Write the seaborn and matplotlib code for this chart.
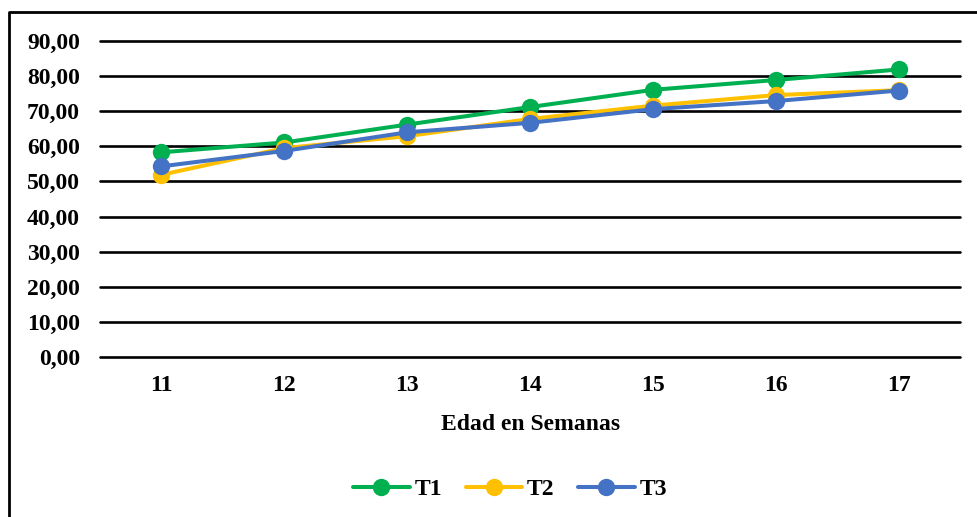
import pandas as pd
import matplotlib as mpl
import matplotlib.pyplot as plt
import seaborn as sns
from matplotlib.ticker import FuncFormatter

mpl.use("Agg")

# values
weeks = [11, 12, 13, 14, 15, 16, 17]
t1 = [58.3, 61.1, 66.2, 71.2, 76.1, 78.9, 81.9]
t2 = [51.9, 59.5, 62.9, 67.8, 71.6, 74.6, 76.0]
t3 = [54.3, 58.7, 64.0, 66.7, 70.6, 72.9, 75.9]
y_ticks = [0, 10, 20, 30, 40, 50, 60, 70, 80, 90]

df = pd.concat([
    pd.DataFrame({'Semana': weeks, 'Valor': t1, 'Tratamiento': 'T1'}),
    pd.DataFrame({'Semana': weeks, 'Valor': t2, 'Tratamiento': 'T2'}),
    pd.DataFrame({'Semana': weeks, 'Valor': t3, 'Tratamiento': 'T3'}),
])

sns.set_style("white")
plt.rcParams['font.family'] = ['Liberation Serif', 'DejaVu Serif']
plt.rcParams['font.weight'] = 'bold'
plt.rcParams['text.color'] = 'black'
plt.rcParams['xtick.color'] = 'black'
plt.rcParams['ytick.color'] = 'black'
plt.rcParams['axes.labelcolor'] = 'black'

fig = plt.figure(figsize=(9.78, 5.17), dpi=100)
ax = fig.add_axes([100 / 978, 1 - 357 / 517, 860.5 / 978, 316 / 517])

palette = {'T1': '#00B050', 'T2': '#FFC000', 'T3': '#4472C4'}
sns.lineplot(data=df, x='Semana', y='Valor', hue='Tratamiento', palette=palette,
             marker='o', markersize=12.5, markeredgewidth=0, linewidth=2.9,
             ax=ax, legend=False, zorder=3)

ax.set_xlim(10.5, 17.5)
ax.set_ylim(0, 90)
ax.set_xticks(weeks)
ax.set_yticks(y_ticks)
ax.yaxis.set_major_formatter(FuncFormatter(lambda v, p: f"{v:.2f}".replace('.', ',')))
ax.tick_params(length=0, labelsize=17)
ax.tick_params(axis='x', pad=13)
ax.tick_params(axis='y', pad=14.5)
for lab in ax.get_xticklabels() + ax.get_yticklabels():
    lab.set_fontweight('bold')
ax.grid(axis='y', color='black', linewidth=1.9, zorder=1)
for gl in ax.yaxis.get_gridlines():
    gl.set_clip_on(False)
ax.set_axisbelow(True)
for s in ax.spines.values():
    s.set_visible(False)
ax.set_xlabel('Edad en Semanas', fontsize=17, fontweight='bold', labelpad=13)
ax.set_ylabel('')

handles = [mpl.lines.Line2D([], [], color=palette[k], marker='o', markersize=12.5,
                            markeredgewidth=0, linewidth=2.9) for k in ['T1', 'T2', 'T3']]
fig.legend(handles, ['T1', 'T2', 'T3'], loc='center', bbox_to_anchor=(510 / 978, 1 - 489 / 517),
           ncol=3, frameon=False, prop={'size': 17, 'weight': 'bold'},
           handlelength=2.4, handletextpad=0.2, columnspacing=1.0)

# outer chart frame (left and top edges visible in the reference)
fig.add_artist(mpl.lines.Line2D([9 / 978, 9 / 978, 1.0], [0, 1 - 11.5 / 517, 1 - 11.5 / 517],
                                transform=fig.transFigure, color='black', linewidth=2))

fig.savefig('out.png', dpi=100)
